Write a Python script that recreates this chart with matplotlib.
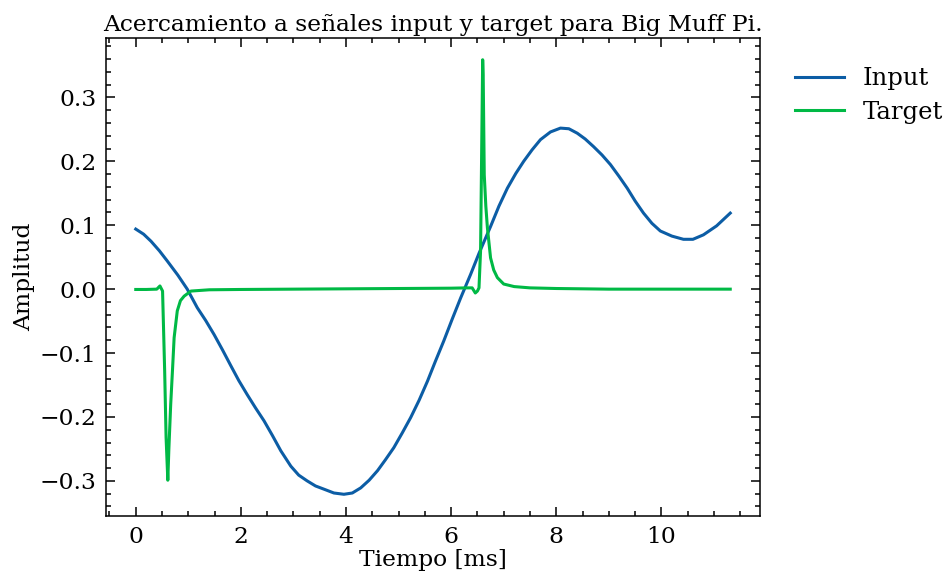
import matplotlib
matplotlib.use("Agg")
import matplotlib.pyplot as plt
from matplotlib.ticker import MultipleLocator

# ---- data ----
input_t = [0, 0.15, 0.29, 0.45, 0.6, 0.8, 0.98, 1.17, 1.33, 1.49, 1.65, 1.81, 1.96,
           2.12, 2.28, 2.44, 2.6, 2.76, 2.95, 3.1, 3.26, 3.42, 3.58, 3.77, 3.96, 4.12,
           4.28, 4.44, 4.60, 4.75, 4.91, 5.07, 5.23, 5.39, 5.55, 5.70, 5.86, 6.02, 6.18,
           6.37, 6.53, 6.75, 6.91, 7.07, 7.23, 7.38, 7.54, 7.70, 7.89, 8.08, 8.24, 8.40,
           8.55, 8.71, 8.87, 9.03, 9.19, 9.35, 9.50, 9.66, 9.82, 9.98, 10.2, 10.42, 10.6,
           10.80, 11.05, 11.31]
input_v = [0.094, 0.086, 0.075, 0.060, 0.044, 0.022, 0.0, -0.029, -0.049, -0.071, -0.095,
           -0.120, -0.143, -0.165, -0.186, -0.206, -0.229, -0.253, -0.277, -0.291, -0.300,
           -0.308, -0.313, -0.319, -0.321, -0.319, -0.311, -0.299, -0.284, -0.267, -0.248,
           -0.225, -0.201, -0.174, -0.144, -0.113, -0.081, -0.047, -0.014, 0.023, 0.056,
           0.098, 0.130, 0.158, 0.181, 0.200, 0.218, 0.234, 0.246, 0.252, 0.251, 0.244,
           0.235, 0.223, 0.210, 0.195, 0.177, 0.158, 0.138, 0.119, 0.103, 0.091, 0.083,
           0.078, 0.078, 0.085, 0.099, 0.119]

target_t = [0, 0.2, 0.4, 0.46, 0.51, 0.55, 0.577, 0.61, 0.63, 0.665, 0.70, 0.73, 0.79,
            0.85, 0.92, 1.05, 1.4, 2, 3, 4, 5, 6, 6.3, 6.4, 6.46, 6.5, 6.53, 6.56, 6.60,
            6.61, 6.62, 6.63, 6.66, 6.69, 6.75, 6.81, 6.88, 7.0, 7.2, 7.5, 8, 9, 10, 11, 11.31]
target_v = [-0.0005, -0.0005, 0.0, 0.005, -0.003, -0.128, -0.232, -0.299, -0.25, -0.18,
            -0.125, -0.076, -0.034, -0.018, -0.011, -0.003, -0.001, -0.0005, 0.0, 0.0005,
            0.001, 0.0015, 0.002, 0.002, -0.006, -0.003, 0.002, 0.06, 0.359, 0.335, 0.257,
            0.179, 0.13, 0.096, 0.049, 0.03, 0.018, 0.008, 0.004, 0.002, 0.001, 0.0, 0.0,
            0.0, 0.0]

labels = ["Input", "Target"]
colors = ["#0C5DA5", "#00B945"]
title = "Acercamiento a señales input y target para Big Muff Pi."
xlabel = "Tiempo [ms]"
ylabel = "Amplitud"

plt.rcParams["font.family"] = ["DejaVu Serif"]
plt.rcParams["axes.unicode_minus"] = True

fig = plt.figure(figsize=(9.45, 5.75), dpi=100)
ax = fig.add_axes([0.1122, 0.1026, 0.8042 - 0.1122, 0.9339 - 0.1026])

ax.plot(input_t, input_v, color=colors[0], lw=2.2, label=labels[0])
ax.plot(target_t, target_v, color=colors[1], lw=2.2, label=labels[1])

ax.xaxis.set_major_locator(MultipleLocator(2))
ax.xaxis.set_minor_locator(MultipleLocator(0.5))
ax.yaxis.set_major_locator(MultipleLocator(0.1))
ax.yaxis.set_minor_locator(MultipleLocator(0.02))

ax.tick_params(which="both", direction="in", top=True, right=True, width=1.1,
               labelsize=16.8)
ax.tick_params(which="major", length=6.5, pad=7)
ax.tick_params(which="minor", length=3.3)
for s in ax.spines.values():
    s.set_linewidth(1.1)

ax.set_title(title, fontsize=16.8, pad=5)
ax.set_xlabel(xlabel, fontsize=16.8, labelpad=1)
ax.set_ylabel(ylabel, fontsize=16.8, labelpad=3)

ax.legend(loc="upper left", bbox_to_anchor=(1.02, 0.985), frameon=False,
          fontsize=17.5, handlelength=2.0, handletextpad=0.8, labelspacing=0.45)

fig.savefig("out.png", dpi=100)
